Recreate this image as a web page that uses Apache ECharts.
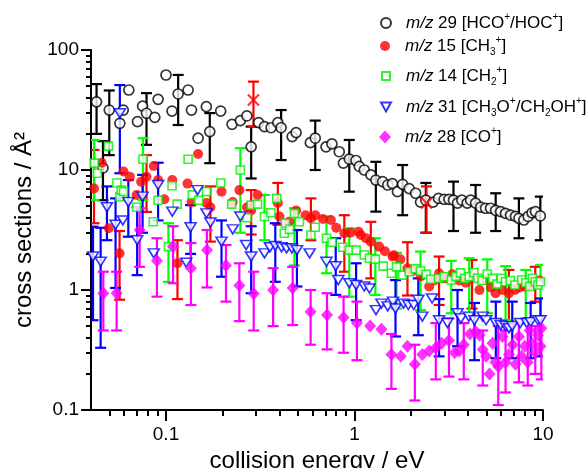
<!DOCTYPE html>
<html>
<head>
<meta charset="utf-8">
<script src="https://cdn.jsdelivr.net/npm/echarts/dist/echarts.min.js"></script>
<style>
html,body{margin:0;padding:0;background:#fff;}
#chart{width:588px;height:468px;}
</style>
</head>
<body>
<div id="chart"></div>
<script>
// ---------- axis tick values ----------
const xMajorTicks = [0.1, 1, 10];
const xMinorTicks = [0.05,0.06,0.07,0.08,0.09,0.2,0.3,0.4,0.5,0.6,0.7,0.8,0.9,2,3,4,5,6,7,8,9];
const yMajorTicks = [0.1, 1, 10, 100];
const yMinorTicks = [0.2,0.3,0.4,0.5,0.6,0.7,0.8,0.9,2,3,4,5,6,7,8,9,20,30,40,50,60,70,80,90];

// ---------- m/z 29 [HCO+/HOC+] (black open circles) ----------
const m29X = [0.0428,0.0463,0.050,0.0569,0.0593,0.0635,0.0706,0.0751,0.0788,0.0872,0.0908,0.100,0.1076,0.116,0.131,0.1365,0.148,0.1637,0.1707,0.195,0.224,0.248,0.2686,0.283,0.310,0.333,0.361,0.392,0.408,0.467,0.490,0.583,0.619,0.706,0.759,0.830,0.873,0.938,1.018,1.06,1.127,1.222,1.298,1.41,1.50,1.59,1.69,1.80,1.95,2.11,2.24,2.39,2.61,2.79,2.99,3.17,3.35,3.52,3.71,3.96,4.13,4.39,4.67,4.96,5.27,5.61,5.96,6.33,6.73,7.15,7.45,7.91,8.34,8.75,9.12,9.68];
const m29Y = [37,10.4,31.6,24.5,31.6,46.4,25.3,34.1,29.7,27.5,38.8,61.9,31,43,46.4,31.6,18.4,33.7,20.9,31,24,25.8,28.2,15.6,24.8,23,22.5,24.8,22.5,19,20.5,16.9,18.4,15.6,16.5,14.2,11.4,12.3,12,10.7,10,9.1,8.25,8,7.5,7.7,6.6,7.6,7.0,6.4,5.4,5.6,5.4,5.8,5.7,5.7,5.6,5.3,5.6,5.3,5.6,5.3,4.9,4.8,4.8,4.6,4.5,4.35,4.2,4.1,3.96,3.83,4.1,4.4,4.5,4.14];
const m29ErrX  = [0.0428,0.0463,0.050,0.0788,0.116,0.1707,0.283,0.408,0.619,0.938,1.298,1.80,2.39,3.35,4.39,5.61,7.45,9.68];
const m29ErrLo = [20,5.6,13.3,16.2,23.7,11.4,8.5,12.1,10,6.6,4.5,4.2,3.0,3.1,3.0,3.1,2.7,2.6];
const m29ErrHi = [52,17.4,46,43.7,62,29.8,23,31.6,25.8,17.8,11.7,11,7.8,8,7.5,6.4,5.8,6];

// ---------- m/z 15 [CH3+] (red filled circles) ----------
const m15X = [0.0415,0.0456,0.0497,0.0567,0.0595,0.0643,0.0698,0.0738,0.0788,0.0861,0.0908,0.098,0.108,0.115,0.13,0.1365,0.148,0.164,0.172,0.197,0.226,0.245,0.269,0.283,0.306,0.392,0.40,0.45,0.49,0.55,0.587,0.62,0.68,0.75,0.80,0.883,0.95,1.05,1.08,1.15,1.22,1.35,1.45,1.59,1.62,1.75,1.91,2.05,2.25,2.49,2.65,2.81,3.0,3.3,3.6,3.9,4.2,4.6,4.96,5.3,5.6,6.1,6.59,7.1,7.5,8.0,8.5,9.1,9.6];
const m15Y = [7.0,11.5,3.27,2.02,9.7,8.8,6.2,8.0,8.8,10.8,8.25,5.7,8.25,1.67,7.7,5.4,13.6,5.3,4.9,6.6,5.4,6.8,4.9,4.6,6.2,5.3,4.1,3.7,4.6,4.2,3.96,4.2,3.9,3.83,3.3,2.97,3.0,3.06,2.87,2.7,2.53,2.3,2.1,1.9,1.95,1.8,1.52,1.45,1.3,1.07,1.2,1.38,1.25,1.35,1.2,1.15,1.29,1.0,1.21,1.05,0.94,1.0,0.94,1.0,1.05,1.07,1.1,1.14,1.2];
const m15ErrX  = [0.0415,0.0567,0.0788,0.115,0.172,0.283,0.392,0.587,0.883,1.22,1.91,2.81,4.2,6.59,9.1];
const m15ErrLo = [3.6,0.83,4.47,0.84,2.53,2.9,3.5,2.6,1.42,1.25,0.9,0.75,0.7,0.55,0.8];
const m15ErrHi = [14.7,3.1,13.3,2.6,7.3,6.8,7.8,5.8,4.2,3.7,2.5,1.9,1.78,1.47,1.56];
// red crosses (extra points)
const crossX = [0.291, 2.41];
const crossY = [38.3, 5.3];
const crossErrLo = [23, 3.0];
const crossErrHi = [54.5, 7.3];

// ---------- m/z 14 [CH2+] (green open squares) ----------
const m14X = [0.0416,0.0432,0.0495,0.0549,0.0569,0.0579,0.0595,0.0698,0.0755,0.0856,0.0908,0.103,0.1076,0.1146,0.131,0.138,0.149,0.164,0.195,0.223,0.248,0.269,0.283,0.306,0.333,0.36,0.387,0.424,0.43,0.452,0.48,0.51,0.587,0.619,0.71,0.76,0.866,0.938,1.02,1.127,1.2,1.29,1.42,1.57,1.67,1.80,1.95,2.1,2.24,2.4,2.54,2.79,2.99,3.26,3.45,3.65,3.85,4.06,4.3,4.5,4.75,5.06,5.4,5.7,6.0,6.33,6.7,7.1,7.7,8.1,8.5,8.8,9.1,9.4,9.7];
const m14Y = [11.4,9.4,15.8,7.8,6.0,6.8,6.6,4.9,12.3,3.7,5.6,2.3,7.4,5.2,12.3,6.2,5.6,6.6,7.8,5.2,10,4.0,5.1,5.2,4.1,4.4,5.8,2.97,3.6,3.2,4.35,3.7,2.87,3.33,2.7,2.5,2.27,2.15,2.15,1.96,1.84,1.81,1.58,1.38,1.56,1.33,1.42,1.5,1.44,1.35,1.23,1.25,1.29,1.21,1.3,1.39,1.25,1.29,1.4,1.25,1.2,1.36,1.25,1.12,1.25,1.17,1.2,1.1,1.21,1.15,1.07,1.25,1.17,1.1,1.17];
const m14ErrX  = [0.0416,0.0755,0.103,0.248,0.333,0.48,0.71,0.938,1.29,1.67,2.24,3.26,4.06,5.06,6.33,8.1,9.7];
const m14ErrLo = [5.6,5.6,1.17,3.0,2.6,1.6,1.38,0.88,0.91,0.7,0.68,0.64,0.64,0.64,0.56,0.53,0.6];
const m14ErrHi = [17.8,18.4,3.6,15.2,6.2,4.8,4.1,3.27,2.7,2.04,2.09,1.75,1.84,1.8,1.58,1.47,1.62];

// ---------- m/z 31 [CH3O+/CH2OH+] (blue open down-triangles) ----------
const m31X = [0.041,0.045,0.0486,0.054,0.0569,0.059,0.0631,0.0703,0.0751,0.0861,0.0908,0.108,0.128,0.135,0.147,0.164,0.172,0.197,0.226,0.248,0.266,0.283,0.333,0.356,0.38,0.41,0.436,0.465,0.495,0.578,0.71,0.795,0.82,0.938,1.02,1.127,1.2,1.3,1.39,1.5,1.6,1.65,1.82,1.93,2.06,2.18,2.29,2.58,2.81,3.11,3.52,3.67,4.04,4.33,4.79,4.99,5.62,5.96,6.33,6.6,6.87,7.57,8.2,8.6,9.4,9.7];
const m31Y = [1.9,1.72,4.9,3.5,29.7,3.8,5.4,2.6,6.0,2.02,7.5,4.5,1.69,3.33,6.8,4.35,3.65,2.53,3.2,4.1,2.37,1.9,2.02,2.27,2.33,2.27,2.22,2.22,2.15,2.02,1.72,1.58,1.21,1.14,1.1,1.07,1.03,0.68,0.77,0.73,0.8,0.7,0.77,0.75,0.75,0.83,0.6,0.85,0.56,0.53,0.64,0.58,0.6,0.56,0.6,0.56,0.53,0.51,0.5,0.48,0.5,0.53,0.53,0.54,0.56,0.56];
const m31ErrX  = [0.041,0.045,0.0486,0.054,0.0569,0.0631,0.0703,0.0751,0.0908,0.135,0.197,0.283,0.38,0.495,0.795,1.02,1.65,2.18,2.81,3.52,4.33,5.62,6.87,8.6,9.7];
const m31ErrLo = [0.56,0.33,2.6,1.04,9.4,2.78,1.33,3.0,3.8,2.0,1.29,0.94,1.17,1.07,0.91,0.56,0.41,0.42,0.28,0.34,0.26,0.27,0.27,0.27,0.28];
const m31ErrHi = [3.37,3.3,7.3,5.8,51,8.25,4.9,9.1,11.5,5.1,3.8,3.4,3.6,3.16,2.7,1.67,1.21,1.25,0.84,1.0,0.78,0.8,0.8,0.78,0.85];

// ---------- m/z 28 [CO+] (magenta diamonds) ----------
const m28X = [0.0465,0.0547,0.0725,0.0895,0.109,0.1355,0.165,0.208,0.245,0.292,0.37,0.47,0.585,0.715,0.875,1.03,1.21,1.39,1.57,1.76,1.91,2.09,2.29,2.49,2.7,2.9,3.17,3.4,3.6,3.8,4.1,4.39,4.6,4.79,4.99,5.2,5.4,5.6,5.79,6.1,6.33,6.6,6.9,7.15,7.45,7.7,8.0,8.3,8.5,8.75,9.1,9.4,9.7,9.8];
const m28Y = [0.94,0.94,3.16,1.75,2.3,1.52,2.15,1.6,1.09,0.93,1.0,1.04,0.66,0.62,0.59,0.53,0.5,0.47,0.29,0.28,0.34,0.24,0.29,0.31,0.33,0.36,0.38,0.3,0.31,0.35,0.43,0.45,0.42,0.32,0.28,0.2,0.36,0.25,0.23,0.41,0.25,0.29,0.35,0.24,0.41,0.28,0.34,0.25,0.46,0.36,0.3,0.42,0.34,0.48];
const m28ErrX  = [0.0465,0.0547,0.0725,0.0895,0.109,0.1355,0.165,0.208,0.245,0.292,0.37,0.47,0.585,0.715,0.875,1.03,1.57,2.09,2.7,3.17,3.8,4.79,5.79,6.33,7.45,8.3,9.1,9.8];
const m28ErrLo = [0.46,0.46,1.56,0.88,1.14,0.75,1.05,0.8,0.55,0.46,0.5,0.51,0.35,0.32,0.3,0.26,0.15,0.12,0.18,0.19,0.18,0.16,0.11,0.14,0.17,0.16,0.2,0.18];
const m28ErrHi = [1.42,1.42,4.8,2.7,3.4,2.46,3.16,2.37,1.67,1.42,1.52,1.56,1.0,0.94,0.88,0.8,0.43,0.35,0.53,0.58,0.53,0.46,0.5,0.46,0.53,0.58,0.5,0.58];

// ---------- helpers ----------
const pts = (xs, ys) => xs.map((x, i) => [x, ys[i]]);
const errs = (xs, lo, hi) => xs.map((x, i) => [x, lo[i], hi[i]]);
const FONT = '"Liberation Sans", Arial, sans-serif';

function errRender(color) {
  return function (params, api) {
    const x = api.value(0);
    const a = api.coord([x, api.value(1)]);
    const b = api.coord([x, api.value(2)]);
    const w = 5.5;
    const style = { stroke: color, lineWidth: 2.2, fill: null };
    return {
      type: 'group',
      children: [
        { type: 'line', shape: { x1: a[0], y1: a[1], x2: b[0], y2: b[1] }, style: style },
        { type: 'line', shape: { x1: a[0] - w, y1: a[1], x2: a[0] + w, y2: a[1] }, style: style },
        { type: 'line', shape: { x1: b[0] - w, y1: b[1], x2: b[0] + w, y2: b[1] }, style: style }
      ]
    };
  };
}
function errSeries(data, color) {
  return {
    type: 'custom', data: data, renderItem: errRender(color),
    encode: { x: 0, y: [1, 2] }, clip: true, silent: true
  };
}

const TRI_DOWN = 'path://M0,0L10,0L5,9Z';
const CROSS = 'path://M0,0L10,10M10,0L0,10';

const names = ['m29', 'm15', 'm14', 'm31', 'm28'];
const legendLabels = [
  '{g| }{i|m/z} 29 [HCO{sup|+}/HOC{sup|+}]',
  '{g| }{i|m/z} 15 [CH{sub|3}{sup|+}]',
  '{g| }{i|m/z} 14 [CH{sub|2}{sup|+}]',
  '{g| }{i|m/z} 31 [CH{sub|3}O{sup|+}/CH{sub|2}OH{sup|+}]',
  '{g| }{i|m/z} 28 [CO{sup|+}]'
];
const legendTops = [7, 30, 60, 91, 121];
const legendIcon = [[10, 10], [10, 10], [8, 8], [10, 9], [12, 13]];

const chart = echarts.init(document.getElementById('chart'));

const legends = names.map((n, i) => ({
  data: [n], left: 380 - legendIcon[i][0] / 2, top: legendTops[i], orient: 'vertical',
  itemWidth: legendIcon[i][0], itemHeight: legendIcon[i][1], selectedMode: false,
  formatter: () => legendLabels[i],
  textStyle: {
    fontFamily: FONT, fontSize: 17, color: '#000', lineHeight: 22,
    rich: {
      g: { width: 15 - legendIcon[i][0] / 2, fontSize: 17, lineHeight: 22 },
      i: { fontStyle: 'italic', fontFamily: FONT, fontSize: 17, lineHeight: 22, color: '#000' },
      sup: { fontFamily: FONT, fontSize: 10, lineHeight: 10, verticalAlign: 'top', color: '#000' },
      sub: { fontFamily: FONT, fontSize: 10, lineHeight: 10, verticalAlign: 'bottom', color: '#000' }
    }
  }
}));

const axisLine = { show: true, lineStyle: { color: '#000', width: 2 } };

const option = {
  backgroundColor: '#fff',
  animation: false,
  grid: { left: 91, right: 45, top: 50, bottom: 58, containLabel: false, outerBoundsMode: 'none' },
  legend: legends,
  xAxis: [
    {
      type: 'log', logBase: 10, min: 0.04, max: 10, position: 'bottom',
      name: 'collision energy / eV', nameLocation: 'middle', nameGap: 37,
      nameTextStyle: { fontFamily: FONT, fontSize: 24, color: '#000' },
      axisLine: axisLine,
      axisTick: { show: true, inside: false, length: 11, lineStyle: { color: '#000', width: 2 }, customValues: xMajorTicks },
      axisLabel: { show: true, margin: 15, fontFamily: FONT, fontSize: 19, color: '#000', customValues: xMajorTicks, formatter: v => String(+v) },
      splitLine: { show: false }, minorTick: { show: false }
    },
    {
      type: 'log', logBase: 10, min: 0.04, max: 10, position: 'bottom',
      axisLine: { show: false },
      axisTick: { show: true, inside: false, length: 6, lineStyle: { color: '#000', width: 2 }, customValues: xMinorTicks },
      axisLabel: { show: false }, splitLine: { show: false }
    }
  ],
  yAxis: [
    {
      type: 'log', logBase: 10, min: 0.1, max: 100, position: 'left',
      name: 'cross sections / Å²', nameLocation: 'middle', nameGap: 53, nameRotate: 90,
      nameTextStyle: { fontFamily: FONT, fontSize: 24, color: '#000' },
      axisLine: axisLine,
      axisTick: { show: true, inside: false, length: 10, lineStyle: { color: '#000', width: 2 }, customValues: yMajorTicks },
      axisLabel: { show: true, margin: 12, fontFamily: FONT, fontSize: 19, color: '#000', customValues: yMajorTicks, formatter: v => String(+v) },
      splitLine: { show: false }
    },
    {
      type: 'log', logBase: 10, min: 0.1, max: 100, position: 'left',
      axisLine: { show: false },
      axisTick: { show: true, inside: false, length: 5, lineStyle: { color: '#000', width: 2 }, customValues: yMinorTicks },
      axisLabel: { show: false }, splitLine: { show: false }
    }
  ],
  series: [
    errSeries(errs(m29ErrX, m29ErrLo, m29ErrHi), '#000000'),
    { name: 'm29', type: 'scatter', data: pts(m29X, m29Y), symbol: 'circle', symbolSize: 10,
      itemStyle: { color: '#ffffff', borderColor: '#000000', borderWidth: 1.7 } },
    errSeries(errs(m15ErrX, m15ErrLo, m15ErrHi), '#ff0000'),
    { name: 'm15', type: 'scatter', data: pts(m15X, m15Y), symbol: 'circle', symbolSize: 10,
      itemStyle: { color: '#ff0000' } },
    errSeries(errs(crossX, crossErrLo, crossErrHi), '#ff0000'),
    { name: 'cross', type: 'scatter', data: pts(crossX, crossY), symbol: CROSS, symbolSize: 11,
      itemStyle: { color: 'rgba(0,0,0,0)', borderColor: '#ff0000', borderWidth: 2.2 } },
    errSeries(errs(m14ErrX, m14ErrLo, m14ErrHi), '#00ff00'),
    { name: 'm14', type: 'scatter', data: pts(m14X, m14Y), symbol: 'rect', symbolSize: 8,
      itemStyle: { color: '#ffffff', borderColor: '#00ee00', borderWidth: 1.6 } },
    errSeries(errs(m31ErrX, m31ErrLo, m31ErrHi), '#0000ff'),
    { name: 'm31', type: 'scatter', data: pts(m31X, m31Y), symbol: TRI_DOWN, symbolSize: [11, 9],
      itemStyle: { color: '#ffffff', borderColor: '#0000ff', borderWidth: 1.6 } },
    errSeries(errs(m28ErrX, m28ErrLo, m28ErrHi), '#ff00ff'),
    { name: 'm28', type: 'scatter', data: pts(m28X, m28Y), symbol: 'diamond', symbolSize: [12, 13],
      itemStyle: { color: '#ff00ff' } }
  ]
};
chart.setOption(option);
</script>
</body>
</html>
